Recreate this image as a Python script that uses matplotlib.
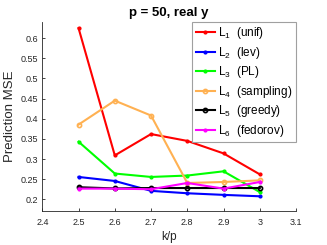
import matplotlib
matplotlib.use("Agg")
import matplotlib.pyplot as plt

plt.rcParams['font.family'] = ['Liberation Sans', 'DejaVu Sans']

kp = [2.5, 2.6, 2.7, 2.8, 2.9, 3.0]
unif = [0.625, 0.309, 0.362, 0.345, 0.314, 0.262]
lev = [0.2555, 0.2455, 0.221, 0.215, 0.211, 0.2075]
pl = [0.343, 0.264, 0.2555, 0.259, 0.2695, 0.218]
sampling = [0.3855, 0.445, 0.408, 0.2405, 0.243, 0.247]
greedy = [0.230, 0.227, 0.228, 0.228, 0.228, 0.228]
fedorov = [0.2265, 0.2265, 0.225, 0.2405, 0.2265, 0.243]

fig = plt.figure(figsize=(3.27, 2.45), dpi=100)
ax = fig.add_axes([0.1294, 0.14, 0.7758, 0.7714])

ax.plot(kp, unif, color='#ff0000', lw=1.5, marker='.', ms=4, label=r'$\mathregular{L_1}$  (unif)')
ax.plot(kp, lev, color='#0000ff', lw=1.5, marker='.', ms=4, label=r'$\mathregular{L_2}$  (lev)')
ax.plot(kp, pl, color='#00ff00', lw=1.5, marker='.', ms=4, label=r'$\mathregular{L_3}$  (PL)')
ax.plot(kp, sampling, color='#ffb152', lw=1.5, marker='o', ms=3, mfc='none', mew=1.2,
        label=r'$\mathregular{L_4}$  (sampling)')
ax.plot(kp, greedy, color='#000000', lw=1.5, marker='o', ms=3, mfc='none', mew=1.2,
        label=r'$\mathregular{L_5}$  (greedy)')
ax.plot(kp, fedorov, color='#ff00ff', lw=1.5, marker='.', ms=4, label=r'$\mathregular{L_6}$  (fedorov)')

ax.set_xlim(2.4, 3.1)
ax.set_ylim(0.1717, 0.641)
ax.set_xticks([2.4, 2.5, 2.6, 2.7, 2.8, 2.9, 3.0, 3.1])
ax.set_xticklabels(['2.4', '2.5', '2.6', '2.7', '2.8', '2.9', '3', '3.1'])
ax.set_yticks([0.2, 0.25, 0.3, 0.35, 0.4, 0.45, 0.5, 0.55, 0.6])
ax.set_yticklabels(['0.2', '0.25', '0.3', '0.35', '0.4', '0.45', '0.5', '0.55', '0.6'])

for s in ['top', 'right']:
    ax.spines[s].set_visible(False)
for s in ['left', 'bottom']:
    ax.spines[s].set_color('#262626')
    ax.spines[s].set_linewidth(0.6)
ax.tick_params(direction='in', length=2.5, width=0.6, colors='#262626', labelsize=6.5, pad=3)
ax.tick_params(axis='x', pad=5)

ax.set_xlabel('k/p', fontsize=8.5, color='#262626', labelpad=3)
ax.set_ylabel('Prediction MSE', fontsize=9.5, color='#262626', labelpad=3)
ax.set_title('p = 50, real y', fontsize=9.5, fontweight='bold', pad=4)

leg = ax.legend(loc='upper right', fontsize=8.5, frameon=True, fancybox=False,
                framealpha=1, edgecolor='#a0a0a0', handlelength=1.6, handletextpad=0.3,
                labelspacing=0.3, borderpad=0.3, borderaxespad=0)
leg.get_frame().set_linewidth(0.8)

fig.savefig('out.png', dpi=100)
